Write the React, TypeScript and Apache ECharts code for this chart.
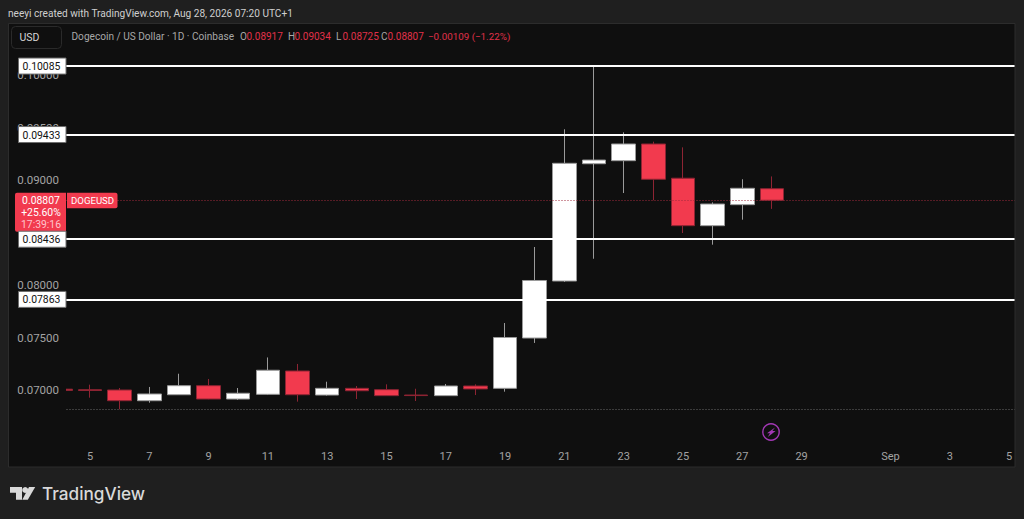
import React, { useEffect, useRef } from "react";
import * as echarts from "echarts";

const categories = [
  "4","5","6","7","8","9","10","11","12","13","14","15","16","17","18","19","20","21","22","23","24","25","26","27","28","29","30","31",
  "Sep","2","3","4","5",
];
const shownTickIndexes = [1,3,5,7,9,11,13,15,17,19,21,23,25,28,30,32];

// [open, close, low, high]
const candles = [
  [0.07008,0.06996,0.06996,0.07008],
  [0.07002,0.06996,0.06927,0.07051],
  [0.07000,0.06898,0.06816,0.07019],
  [0.06898,0.06962,0.06879,0.07029],
  [0.06955,0.07041,0.06953,0.07155],
  [0.07041,0.06914,0.06912,0.07105],
  [0.06914,0.06969,0.06905,0.07019],
  [0.06959,0.07188,0.06952,0.07310],
  [0.07181,0.06955,0.06889,0.07248],
  [0.06952,0.07016,0.06946,0.07079],
  [0.07016,0.06993,0.06914,0.07038],
  [0.07003,0.06946,0.06943,0.07054],
  [0.06952,0.06947,0.06895,0.07012],
  [0.06946,0.07038,0.06943,0.07057],
  [0.07038,0.07010,0.06952,0.07054],
  [0.07016,0.07500,0.06984,0.07638],
  [0.07495,0.08043,0.07448,0.08362],
  [0.08038,0.09159,0.08029,0.09483],
  [0.09155,0.09190,0.08250,0.10085],
  [0.09184,0.09343,0.08876,0.09454],
  [0.09343,0.09007,0.08807,0.09365],
  [0.09017,0.08565,0.08495,0.09311],
  [0.08565,0.08771,0.08384,0.08787],
  [0.08765,0.08921,0.08622,0.09007],
  [0.08917,0.08807,0.08725,0.09034],
];

const levelPrices = [0.10085, 0.09433, 0.08436, 0.07863];
const lastPrice = 0.08807;
const rangeLow = 0.06816;
const coveredAxisLabel = "0.08500";

const header = "neeyi created with TradingView.com, Aug 28, 2026 07:20 UTC+1";
const symbolTitle = "Dogecoin / US Dollar · 1D · Coinbase";
const ohlcLetters = ["O", "H", "L", "C"];
const ohlcValues = ["0.08917", "0.09034", "0.08725", "0.08807"];
const changeText = "−0.00109 (−1.22%)";

const BG = "#1f1f1f";
const PANEL = "#0f0f0f";
const RED = "#f23a4e";
const FONT = "Roboto, sans-serif";

const priceY = (chart: any, p: number) => chart.convertToPixel({ yAxisIndex: 0 }, p);

const txt = (text: string, x: number, y: number, fill: string, size: number, extra: any = {}, z = 40) => ({
  type: "text",
  z,
  x,
  y,
  style: { text, fill, fontSize: size, fontFamily: FONT, textVerticalAlign: "middle", textAlign: "left", ...extra },
});

export default function App() {
  const ref = useRef<HTMLDivElement>(null);
  useEffect(() => {
    document.body.style.margin = "0";
    const chart = echarts.init(ref.current!, undefined, { renderer: "svg" });
    chart.setOption({
      animation: false,
      backgroundColor: BG,
      grid: { left: 45.5, top: 22.5, width: 978.45, height: 420 },
      xAxis: {
        type: "category",
        data: categories,
        boundaryGap: true,
        axisLine: { show: false },
        axisTick: { show: false },
        splitLine: { show: false },
        axisLabel: {
          color: "#a3a3a3",
          fontSize: 11,
          fontFamily: FONT,
          margin: 8,
          interval: (i: number) => shownTickIndexes.includes(i),
        },
      },
      yAxis: {
        type: "value",
        min: 0.065,
        max: 0.105,
        interval: 0.005,
        offset: -13.5,
        z: 20,
        axisLine: { show: false },
        axisTick: { show: false },
        splitLine: { show: false },
        axisLabel: {
          color: "#a3a3a3",
          fontSize: 11.5,
          fontFamily: FONT,
          margin: 0,
          showMinLabel: false,
          showMaxLabel: false,
          formatter: (v: number) => (v.toFixed(5) === coveredAxisLabel ? "" : v.toFixed(5)),
        },
      },
      series: [
        {
          type: "candlestick",
          data: candles,
          barWidth: 24,
          clip: true,
          itemStyle: {
            color: "#ffffff",
            color0: RED,
            borderColor: "#9a9a9a",
            borderColor0: "#8e2433",
            borderWidth: 1,
          },
          markLine: {
            silent: true,
            symbol: "none",
            precision: 5,
            label: { show: false },
            data: [
              ...levelPrices.map((v) => ({ yAxis: v, lineStyle: { color: "#ffffff", width: 2, type: "solid" } })),
              { yAxis: lastPrice, lineStyle: { color: "#a02a3c", width: 1, type: [1, 2] } },
              { yAxis: rangeLow, lineStyle: { color: "#6a6a6a", width: 1, type: [1, 2] } },
            ],
          },
        },
      ],
    });

    const levelLabels = levelPrices.flatMap((p) => {
      const y = priceY(chart, p);
      return [
        { type: "rect", z: 36, shape: { x: 18.5, y: y - 8, width: 47.5, height: 16 }, style: { fill: "#ffffff", stroke: "#6e6e6e", lineWidth: 1 } },
        txt(p.toFixed(5), 41.5, y + 0.5, "#111111", 10.4, { textAlign: "center" }, 37),
      ];
    });
    const lastY = priceY(chart, lastPrice);

    chart.setOption({
      graphic: [
        { type: "rect", z: -1, shape: { x: 9, y: 23, width: 1006, height: 444 }, style: { fill: PANEL } },
        { type: "rect", z: 10, shape: { x: 9, y: 23, width: 57, height: 420 }, style: { fill: PANEL } },
        { type: "rect", z: 10, shape: { x: 1015, y: 0, width: 9, height: 519 }, style: { fill: BG } },
        { type: "rect", z: 11, shape: { x: 8.5, y: 23.5, width: 1006.5, height: 443.5 }, style: { fill: "none", stroke: "#2c2c2c", lineWidth: 1 } },

        txt(header, 8, 13, "#cfcfcf", 10.1),
        { type: "rect", z: 30, shape: { x: 11.5, y: 26.5, width: 50, height: 22, r: 4 }, style: { fill: PANEL, stroke: "#2a2a2a", lineWidth: 1 } },
        txt("USD", 19.5, 37.5, "#d6d6d6", 10.5),
        txt(symbolTitle, 71.5, 36.5, "#a8a8a8", 10.1),
        ...ohlcLetters.flatMap((l, i) => {
          const xs = [240, 288, 336, 381];
          return [txt(l, xs[i], 36.5, "#a8a8a8", 10), txt(ohlcValues[i], xs[i] + 6.5, 36.5, "#e0314a", 10)];
        }),
        txt(changeText, 428, 36.5, "#e0314a", 9.8),

        { type: "rect", z: 34, shape: { x: 15, y: lastY - 7.5, width: 51, height: 39, r: [2, 0, 0, 2] }, style: { fill: RED } },
        txt(lastPrice.toFixed(5), 41, lastY + 0.5, "#ffffff", 10.4, { textAlign: "center" }, 35),
        txt("+25.60%", 41, lastY + 12.5, "#ffffff", 10.4, { textAlign: "center" }, 35),
        txt("17:39:16", 41, lastY + 24.5, "#ffc4cc", 10.4, { textAlign: "center" }, 35),
        { type: "rect", z: 34, shape: { x: 67, y: lastY - 7.5, width: 50.5, height: 15.5, r: [0, 2, 2, 0] }, style: { fill: RED } },
        txt("DOGEUSD", 71, lastY + 0.5, "#ffffff", 9.6, {}, 35),

        ...levelLabels,

        { type: "circle", z: 30, shape: { cx: 771, cy: 432, r: 8.2 }, style: { fill: "none", stroke: "#a238b4", lineWidth: 1.4 } },
        { type: "polygon", z: 30, shape: { points: [[775, 427.5], [767, 433.2], [770, 433.2], [767.8, 437], [775.6, 431], [772.4, 431]] }, style: { fill: "#a238b4" } },

        { type: "polygon", z: 30, shape: { points: [[10, 487], [22, 487], [22, 499.7], [16, 499.7], [16, 492.7], [10, 492.7]] }, style: { fill: "#d9d9d9" } },
        { type: "circle", z: 30, shape: { cx: 25.2, cy: 490, r: 3 }, style: { fill: "#d9d9d9" } },
        { type: "polygon", z: 30, shape: { points: [[29, 487], [35.2, 487], [27.8, 499.7], [22.3, 499.7]] }, style: { fill: "#d9d9d9" } },
        txt("TradingView", 42, 493.5, "#d9d9d9", 17.2, { fontWeight: 500, fontFamily: "Inter, sans-serif" }),
      ],
    });
    return () => chart.dispose();
  }, []);
  return <div ref={ref} style={{ position: "absolute", left: 0, top: 0, width: 1024, height: 519 }} />;
}
